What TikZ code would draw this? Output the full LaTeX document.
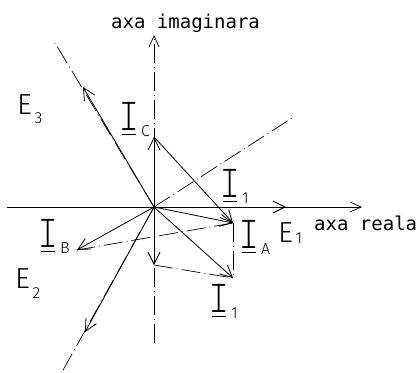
\documentclass[tikz,border=0pt]{standalone}
\usepackage{fontspec}
\setmonofont{DejaVu Sans Mono}
\newfontfamily\ifont[FakeStretch=0.8]{Latin Modern Mono Light}
\newfontfamily\efont{Fira Sans Light}
\usetikzlibrary{arrows.meta}

\newcommand{\fazor}[1]{{\ifont\fontsize{46}{46}\selectfont\makebox[0pt][l]{\hspace{2.5pt}\rule[-4.5pt]{14.5pt}{0.9pt}}I}\raisebox{-6pt}{\efont\fontsize{16}{16}\selectfont\,#1}}
\newcommand{\tens}[2][8pt]{{\efont\fontsize{29}{29}\selectfont E}\raisebox{-#1}{\efont\fontsize{16}{16}\selectfont\,#2}}

\begin{document}
\begin{tikzpicture}[x=1pt, y=-1pt,
  vec/.style={-{Straight Barb[length=12pt,width=12pt]}, line width=0.8pt},
  axa/.style={-{Straight Barb[length=11pt,width=10pt]}, line width=0.7pt},
  dd/.style={line width=0.7pt, dash pattern=on 19pt off 4pt on 1pt off 4pt},
  lbl/.style={anchor=base west, inner sep=0pt, font=\ttfamily\fontsize{19}{19}\selectfont}
]
\useasboundingbox (0,0) rectangle (416,373);

%% origin and axis ends
\coordinate (O)   at (154,207);
\coordinate (Re0) at (7,207);
\coordinate (Re1) at (362,207);
\coordinate (Im0) at (154,343);
\coordinate (Im1) at (154,35);
\coordinate (D1)  at (292,118);
\coordinate (D2)  at (62,372);
\coordinate (D3)  at (55,43);

%% vector tips
\coordinate (E1) at (286,207);
\coordinate (E2) at (85,332);
\coordinate (E3) at (83,87);
\coordinate (IA) at (233,223);
\coordinate (IB) at (77,250);
\coordinate (IC) at (154,137);
\coordinate (Ij) at (154,265);
\coordinate (I1) at (233,278);

%% axes
\draw[axa] (Re0) -- (Re1);
\draw[axa, dd] (Im0) -- (Im1);
\draw[dd] (O) -- (D1);
\draw[dd] (O) -- (D2);
\draw[dd] (O) -- (D3);

%% construction lines
\draw[dd] (IA) -- (IB);
\draw[dd] (Ij) -- (I1);
\draw[dd] (IA) -- (I1);

%% phasors
\draw[vec, line width=1pt] (O) -- (E1);
\draw[vec] (O) -- (E2);
\draw[vec] (O) -- (E3);
\draw[vec] (O) -- (IA);
\draw[vec] (O) -- (IB);
\draw[vec] (O) -- (IC);
\draw[vec] (O) -- (Ij);
\draw[vec] (O) -- (I1);
\draw[vec] (IC) -- (IA);

%% labels
\node[lbl] (axIm) at (111,28)  {axa imaginara};
\node[lbl] (axRe) at (314,230) {axa reala};
\node[lbl] (lE1)  at (278,242) {\tens[1pt]{1}};
\node[lbl] (lE2)  at (15,288)  {\tens[10pt]{2}};
\node[lbl] (lE3)  at (17,114)  {\tens[9pt]{3}};
\node[lbl] (lIC)  at (119,130) {\fazor{C}};
\node[lbl] (lI1a) at (220,197) {\fazor{1}};
\node[lbl] (lIA)  at (239,248) {\fazor{A}};
\node[lbl] (lIB)  at (38,247)  {\fazor{B}};
\node[lbl] (lI1b) at (209,312) {\fazor{1}};
\end{tikzpicture}
\end{document}
